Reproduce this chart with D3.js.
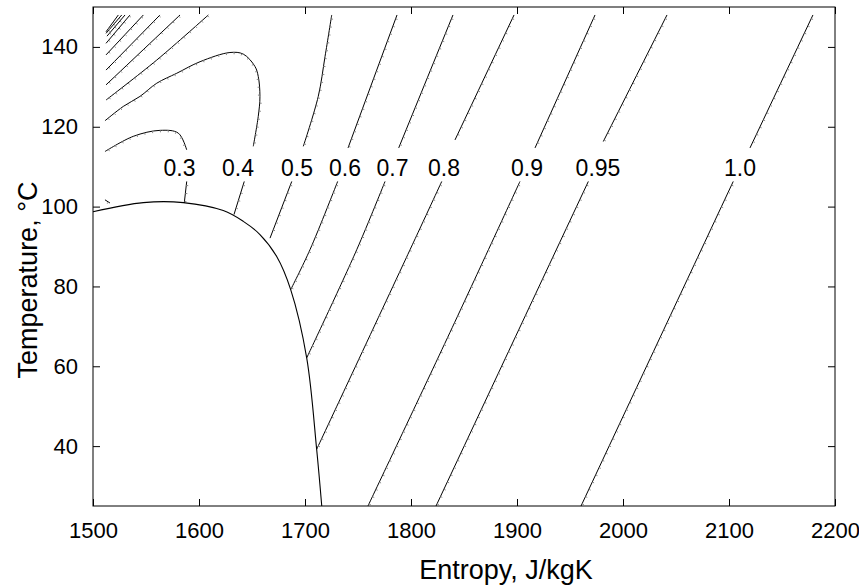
<!DOCTYPE html>
<html><head><meta charset="utf-8">
<script src="https://cdn.jsdelivr.net/npm/d3@7"></script>
<style>
body{margin:0;background:#fff}
text{font-family:"Liberation Sans",Arial,Helvetica,sans-serif;fill:#000}
</style></head>
<body>
<svg id="chart" width="859" height="587"></svg>
<script>
// ---- axis ticks ----
const xTicks = [1500,1600,1700,1800,1900,2000,2100,2200];
const yTicks = [40,60,80,100,120,140];

// ---- saturation boundary (Entropy J/kgK, Temperature C) ----
const domeS = [1500,1547.5,1585.2,1622.9,1641.8,1657.5,1673.3,1686.5,1701.6,1711.0,1715.8];
const domeT = [98.7,101.0,101.0,99.0,96.3,93.0,87.5,79.2,62.1,39.2,25];

// ---- contour lines: [S, T] pairs, split where a label sits ----
const c03a = [[1511.3,113.8],[1538,117.6],[1563.2,119.1],[1580.5,118.4],[1588.4,114.2]];
const c03b = [[1588.4,106.3],[1586.1,100.9]];
const c04a = [[1511.3,121.5],[1528.6,125.1],[1544.3,127.6],[1560.1,130.9],[1579,133.4],[1601,136.3],[1629.2,138.6],[1641.8,138.2],[1652.8,135.1],[1655.9,132.6],[1657.5,127.6],[1655.9,122.6],[1651.2,115.1]];
const c04b = [[1642.7,106.3],[1633,98.0]];
const c05a = [[1725.2,148],[1718.9,137.6],[1712.5,127.6],[1698.4,115.1]];
const c05b = [[1687.5,106.3],[1667.0,92.1]];
const c06a = [[1786.8,148],[1740.6,114.7]];
const c06b = [[1730.8,106.3],[1704.7,89.2],[1686.5,79.2]];
const c07a = [[1839.6,148],[1788.4,114.7]];
const c07b = [[1775.5,106.3],[1748.8,89.2],[1701.6,62.1]];
const c08a = [[1897.2,148],[1841.5,116.7]];
const c08b = [[1829,106.3],[1799.1,89.2],[1711,39.2]];
const c09a = [[1973.6,148],[1917,114.7]];
const c09b = [[1902.8,106.3],[1836.8,68.5],[1759.4,25]];
const c095a = [[2041.5,148],[1981.4,116.3]];
const c095b = [[1967.3,106.3],[1823.6,25]];
const c10a = [[2179.2,148],[2119.8,114.7]];
const c10b = [[2104,106.3],[1960.4,25]];
// unlabeled contours in the upper-left corner
const k1 = [[1512.3,126.7],[1560.1,136.7],[1608.8,148]];
const k2 = [[1512.3,130.5],[1582.1,148]];
const k3 = [[1512.3,134.2],[1563.2,148]];
const k4 = [[1512.3,138.0],[1547.5,148]];
const k5 = [[1512.3,140.9],[1534.9,148]];
const k6 = [[1513.2,142.7],[1530.2,148]];
const k7 = [[1512.3,143.4],[1527.1,148]];
const k8 = [[1512.3,143.8],[1523.9,148]];
const k9 = [[1511.3,101.7],[1516,100.9]];

// ---- contour labels ----
const labelText = ["0.3","0.4","0.5","0.6","0.7","0.8","0.9","0.95","1.0"];
const labelS = [1581.6,1636.8,1692.5,1737.7,1782.5,1831.1,1909.4,1976.4,2110.4];
const labelT = 109.7;

const svg = d3.select("#chart");
const x = d3.scaleLinear().domain([1500,2200]).range([93,835]);
const y = d3.scaleLinear().domain([25,150]).range([506,7]);

const line = d3.line().x(d=>x(d[0])).y(d=>y(d[1])).curve(d3.curveCatmullRom.alpha(0.5));

// frame
svg.append("rect").attr("x",x(1500)).attr("y",y(150))
  .attr("width",x(2200)-x(1500)).attr("height",y(25)-y(150))
  .attr("fill","none").attr("stroke","#000").attr("stroke-width",1);

// axes
const ax = (g)=>{g.select(".domain").remove(); g.selectAll("line").attr("stroke","#000");};
svg.append("g").attr("transform",`translate(0,${y(25)})`)
  .call(d3.axisBottom(x).tickValues(xTicks).tickSizeInner(-7).tickSizeOuter(0).tickPadding(16).tickFormat(d3.format("d")))
  .call(ax).selectAll("text").attr("font-size",22);
svg.append("g").attr("transform",`translate(0,${y(150)})`)
  .call(d3.axisTop(x).tickValues(xTicks).tickSizeInner(-7).tickSizeOuter(0).tickFormat(""))
  .call(ax);
svg.append("g").attr("transform",`translate(${x(1500)},0)`)
  .call(d3.axisLeft(y).tickValues(yTicks).tickSizeInner(-7).tickSizeOuter(0).tickPadding(15).tickFormat(d3.format("d")))
  .call(ax).selectAll("text").attr("font-size",22);
svg.append("g").attr("transform",`translate(${x(2200)},0)`)
  .call(d3.axisRight(y).tickValues(yTicks).tickSizeInner(-7).tickSizeOuter(0).tickFormat(""))
  .call(ax);

// dome
svg.append("path").datum(domeS.map((s,i)=>[s,domeT[i]]))
  .attr("d",line).attr("fill","none").attr("stroke","#000").attr("stroke-width",1.1);

// contours
const segs = [c03a,c03b,c04a,c04b,c05a,c05b,c06a,c06b,c07a,c07b,c08a,c08b,c09a,c09b,c095a,c095b,c10a,c10b,k1,k2,k3,k4,k5,k6,k7,k8,k9];
const cg = svg.append("g");
const tg = svg.append("g");
segs.forEach(seg=>{
  const p = cg.append("path").datum(seg).attr("d",line)
    .attr("fill","none").attr("stroke","#000").attr("stroke-width",1);
  const node = p.node();
  const L = node.getTotalLength();
  for(let d=4; d<L-1; d+=8){
    const a = node.getPointAtLength(d), b = node.getPointAtLength(Math.min(L,d+0.5));
    let dx=b.x-a.x, dy=b.y-a.y; const n=Math.hypot(dx,dy)||1; dx/=n; dy/=n;
    let nx = -dy, ny = dx;
    if (ny < 0) { nx=-nx; ny=-ny; }
    tg.append("line").attr("x1",a.x).attr("y1",a.y).attr("x2",a.x+nx*2).attr("y2",a.y+ny*2)
      .attr("stroke","#888").attr("stroke-width",1);
  }
});

// labels
svg.append("g").selectAll("text").data(labelText).join("text")
  .attr("x",(d,i)=>x(labelS[i])).attr("y",y(labelT))
  .attr("text-anchor","middle").attr("dominant-baseline","central")
  .attr("font-size",23).text(d=>d);

// axis titles
svg.append("text").attr("x",506).attr("y",579).attr("text-anchor","middle")
  .attr("font-size",27).text("Entropy, J/kgK");
svg.append("text").attr("transform","translate(37,280) rotate(-90)").attr("text-anchor","middle")
  .attr("font-size",27).text("Temperature, °C");
</script>
</body></html>
